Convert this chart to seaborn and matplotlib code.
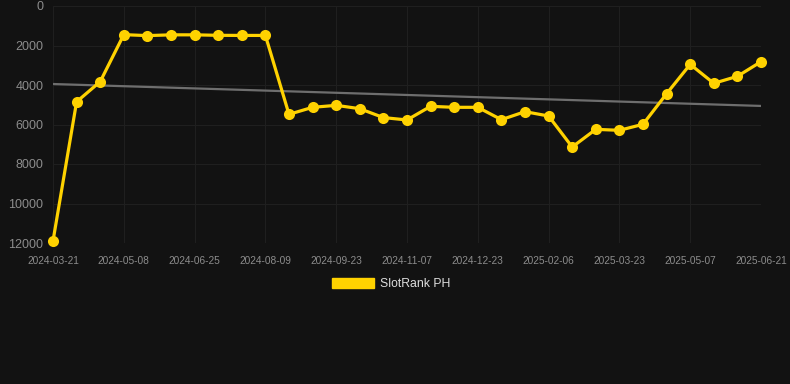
import numpy as np
import pandas as pd
import matplotlib
matplotlib.use("Agg")
import matplotlib.pyplot as plt
import seaborn as sns
from matplotlib.patches import Patch

# ---- data ----
tick_labels = ["2024-03-21", "2024-05-08", "2024-06-25", "2024-08-09", "2024-09-23",
               "2024-11-07", "2024-12-23", "2025-02-06", "2025-03-23", "2025-05-07",
               "2025-06-21"]
rank_values = [11900, 4850, 3830, 1450, 1500, 1460, 1460, 1485, 1490, 1490,
               5485, 5130, 5030, 5200, 5650, 5770, 5080, 5130, 5130, 5755,
               5350, 5570, 7140, 6245, 6295, 5990, 4440, 2955, 3915, 3560, 2820]
trend_values = [3950, 5060]
series_name = "SlotRank PH"
y_ticks = [0, 2000, 4000, 6000, 8000, 10000, 12000]

sns.set_theme(style="dark")
plt.rcParams['font.family'] = ['Liberation Sans', 'DejaVu Sans']

bg = "#121212"
fig = plt.figure(figsize=(7.9, 3.84), dpi=100, facecolor=bg)
ax = fig.add_axes([53/790, 1-243/384, (761-53)/790, (243-6)/384])
ax.set_facecolor(bg)

idx = np.arange(len(rank_values))
df = pd.DataFrame({"idx": idx, "rank": rank_values})

# trend line
ax.plot([idx[0], idx[-1]], trend_values, color="#6e6e6e", lw=1.6, zorder=2)

sns.lineplot(data=df, x="idx", y="rank", ax=ax, color="#FFD200", lw=2.3,
             marker="o", markersize=8, markeredgewidth=0, zorder=3,
             clip_on=False, legend=False)

ax.set_xlim(0, len(rank_values)-1)
ax.set_ylim(12000, 0)
ax.set_yticks(y_ticks)
ax.set_yticklabels([str(v) for v in y_ticks])
ax.set_xticks(idx[::3])
ax.set_xticklabels(tick_labels)
ax.tick_params(axis="y", colors="#8c8c8c", labelsize=9, length=0, pad=7)
ax.tick_params(axis="x", colors="#8c8c8c", labelsize=7.3, length=0, pad=9)
ax.set_xlabel("")
ax.set_ylabel("")
ax.grid(True, color="#1f1f1f", lw=0.8)
for s in ax.spines.values():
    s.set_visible(False)

handles = [Patch(facecolor="#FFD200", edgecolor="#FFD200", label=series_name)]
leg = fig.legend(handles=handles, loc="center", bbox_to_anchor=(0.495, 1-284/384),
                 frameon=False, fontsize=8.8, handlelength=3.4, handleheight=0.9,
                 handletextpad=0.5)
for t in leg.get_texts():
    t.set_color("#dddddd")

fig.savefig("out.png", dpi=100, facecolor=bg)
